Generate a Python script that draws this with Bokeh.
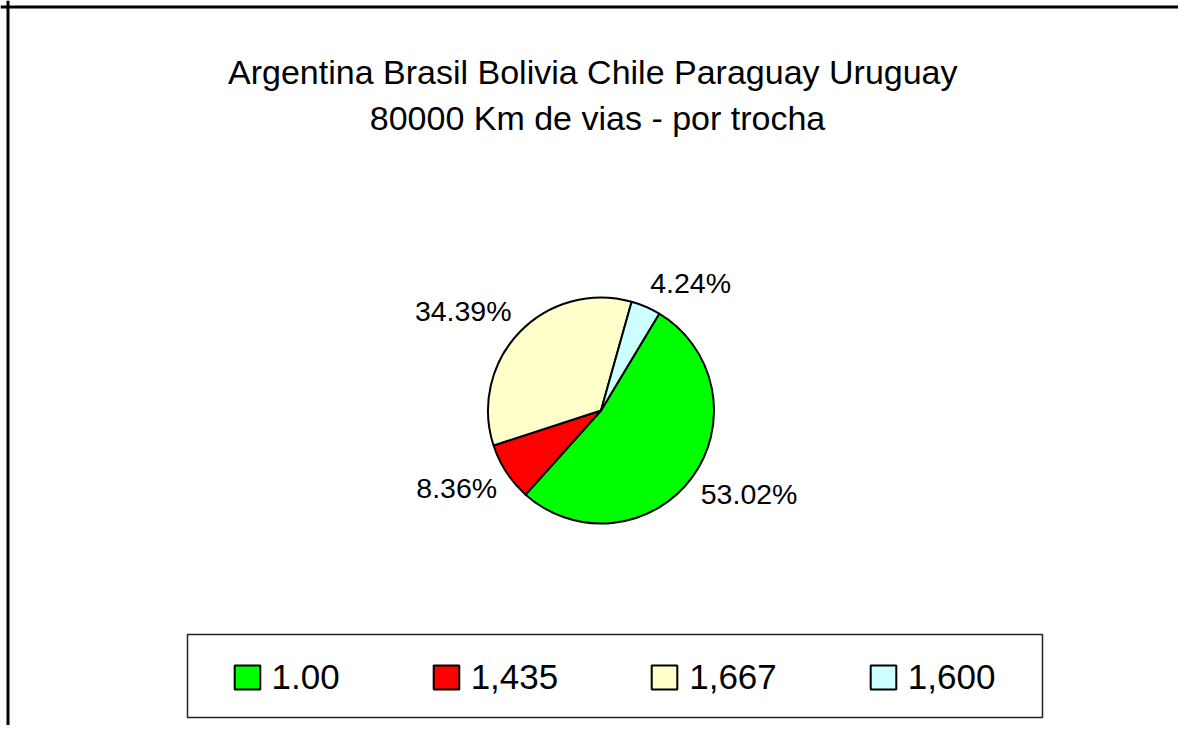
import numpy as np
from bokeh.plotting import figure
from bokeh.models import (ColumnDataSource, Range1d, Label, Legend, LegendItem,
                          BoxAnnotation, Span)
from bokeh.core.properties import value
from bokeh.embed import file_html
from bokeh.resources import INLINE

# ---- data ----
categories = ["1.00", "1,435", "1,667", "1,600"]
percent = [53.02, 8.36, 34.39, 4.24]
colors = ["#00FF00", "#FF0000", "#FFFFCC", "#CCFFFF"]
title_lines = ["Argentina Brasil Bolivia Chile  Paraguay Uruguay",
               "80000 Km de vias - por trocha"]

FONT = "Liberation Sans"
W, H = 1178, 725

p = figure(width=W, height=H, output_backend="svg", toolbar_location=None,
           x_range=Range1d(0, W), y_range=Range1d(0, H), min_border=0)
p.axis.visible = False
p.grid.visible = False
p.outline_line_color = None
p.background_fill_color = "white"
p.border_fill_color = "white"

# pie geometry (style)
cx, cy, R = 600.5, 315.0, 113.0
start0 = np.radians(59.0)

vals = np.array(percent, dtype=float)
spans = vals / vals.sum() * 2 * np.pi
before = np.concatenate([[0.0], np.cumsum(spans)[:-1]])
starts = start0 - before
ends = starts - spans
mids = starts - spans / 2

src = ColumnDataSource(dict(cat=categories, start=starts, end=ends, color=colors))
r = p.wedge(x=cx, y=cy, radius=R, start_angle="start", end_angle="end",
            direction="clock", fill_color="color", line_color="black",
            line_width=2, source=src)

# percentage labels
d = 11.0
cosm, sinm = np.cos(mids), np.sin(mids)
aligns = ["left" if c > 0 else "right" for c in cosm]
bases = ["top" if s < 0 else "bottom" for s in sinm]
nudge = np.array([6.0 if b == "top" else -2.0 for b in bases])
lx = cx + (R + d) * cosm
ly = cy + (R + d) * sinm + nudge
texts = [f"{v:.2f}%" for v in percent]
lsrc = ColumnDataSource(dict(x=lx, y=ly, t=texts, a=aligns, b=bases))
p.text(x="x", y="y", text="t", text_align="a", text_baseline="b", source=lsrc,
       text_font=value(FONT), text_font_size="28.5px", text_color="black")

# title
for txt, yy in zip(title_lines, [654, 608]):
    p.add_layout(Label(x=597, y=yy, text=txt, text_align="center",
                       text_baseline="alphabetic", text_font=FONT,
                       text_font_size="34px", text_color="black"))

# chart frame (left & top edges visible)
p.add_layout(Span(location=7.5, dimension="height", line_color="black", line_width=3))
p.add_layout(Span(location=718.5, dimension="width", line_color="black", line_width=3))

# legend box
p.add_layout(BoxAnnotation(left=187, right=1042, bottom=8, top=91,
                           fill_alpha=0, line_color="#222222", line_width=1.5,
                           line_alpha=1))

items = [LegendItem(label=c, renderers=[r], index=i) for i, c in enumerate(categories)]
legend = Legend(items=items, orientation="horizontal", location=(230.5, 28.5),
                padding=0, margin=0, spacing=90, label_standoff=9,
                glyph_width=32, glyph_height=30,
                label_text_font=FONT, label_text_font_size="35px",
                label_text_color="black", border_line_alpha=0,
                background_fill_alpha=0)
p.add_layout(legend)

open("out.html", "w").write(file_html(p, INLINE))
